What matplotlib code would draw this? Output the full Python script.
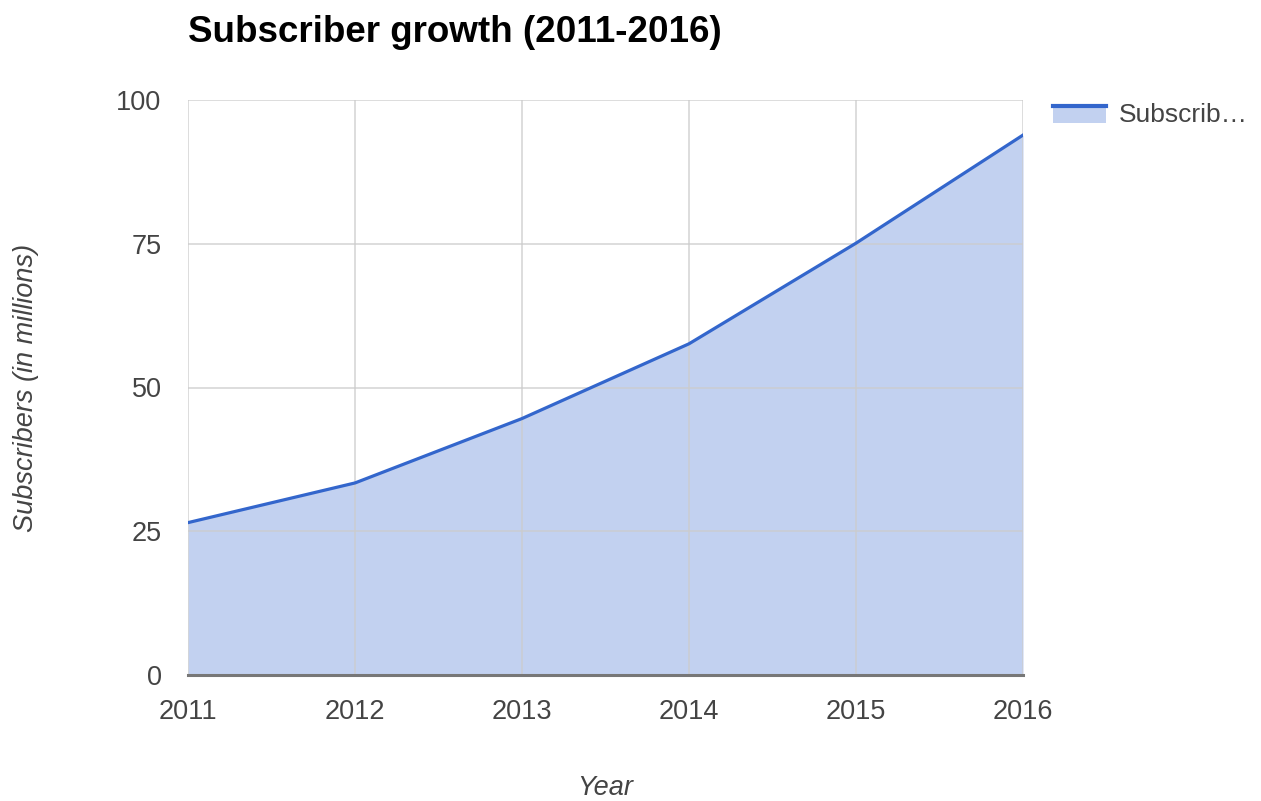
import matplotlib
matplotlib.use("Agg")
import matplotlib.pyplot as plt
from matplotlib.lines import Line2D
from matplotlib.patches import Rectangle
from matplotlib.legend_handler import HandlerBase

years = [2011, 2012, 2013, 2014, 2015, 2016]
subscribers = [26.5, 33.4, 44.6, 57.6, 75.1, 93.9]
y_ticks = [0, 25, 50, 75, 100]

LINE = '#3366cc'
FILL = '#c2d1f0'
TXT = '#444444'

plt.rcParams['font.family'] = ['Liberation Sans', 'DejaVu Sans']


class AreaHandler(HandlerBase):
    # line on top, fill underneath, like the area-chart legend key
    def create_artists(self, legend, orig, xd, yd, w, h, fs, trans):
        top = yd + h * 0.85
        rect = Rectangle((xd, yd - h * 0.05), w, top - yd + h * 0.05,
                         facecolor=FILL, edgecolor='none', transform=trans)
        ln = Line2D([xd, xd + w], [top, top], color=LINE, lw=3, transform=trans)
        return [rect, ln]


fig = plt.figure(figsize=(12.61, 8.01), dpi=100)
ax = fig.add_axes([188 / 1261, 1 - 675 / 801, (1023 - 188) / 1261, (675 - 100) / 801])

ax.fill_between(years, subscribers, 0, color=FILL, lw=0, zorder=1)
area_line, = ax.plot(years, subscribers, color=LINE, lw=2.3, zorder=3)

ax.set_xlim(2011, 2016)
ax.set_ylim(0, 100)
ax.set_xticks(years)
ax.set_yticks(y_ticks)
ax.grid(True, color='#cccccc', lw=1.2, zorder=2)
ax.set_axisbelow(False)
for gl in ax.get_xgridlines() + ax.get_ygridlines():
    gl.set_alpha(0.8)
for s in ['top', 'right', 'left']:
    ax.spines[s].set_visible(False)
ax.spines['bottom'].set_color('#777777')
ax.spines['bottom'].set_linewidth(2.2)
ax.spines['bottom'].set_zorder(4)
ax.tick_params(length=0, labelsize=19.5, labelcolor=TXT)
ax.tick_params(axis='x', pad=17)
ax.tick_params(axis='y', pad=19)

ax.set_xlabel('Year', fontsize=19.5, style='italic', color=TXT)
ax.xaxis.set_label_coords(0.5, -0.174)
ax.set_ylabel('Subscribers (in millions)', fontsize=19.5, style='italic', color=TXT)
ax.yaxis.set_label_coords(-0.179, 0.5)

fig.text(188 / 1261, 1 - 33 / 801, 'Subscriber growth (2011-2016)', fontsize=26.5,
         fontweight='bold', color='black', va='center', ha='left')

fig.legend(handles=[area_line], labels=['Subscrib…'],
           handler_map={area_line: AreaHandler()},
           loc='upper left', bbox_to_anchor=(1053 / 1261, 1 - 103 / 801),
           frameon=False, fontsize=19, labelcolor=TXT, handlelength=2.0,
           handletextpad=0.5, borderaxespad=0, borderpad=0)

fig.savefig('out.png', dpi=100)
